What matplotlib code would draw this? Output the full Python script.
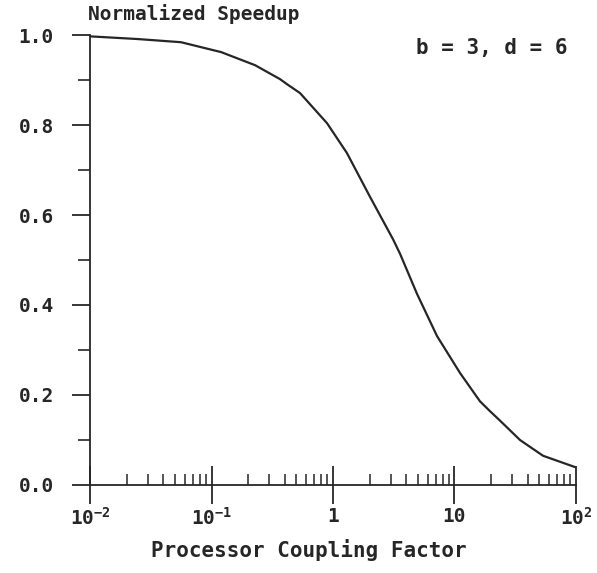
import matplotlib
matplotlib.use("Agg")
import matplotlib.pyplot as plt
from matplotlib.ticker import FixedLocator, MultipleLocator, LogLocator, NullFormatter

# values
coupling = [0.01, 0.0248, 0.0561, 0.12, 0.228, 0.366, 0.427, 0.535, 0.893, 1.30,
            2.02, 3.12, 3.56, 4.91, 7.18, 11.1, 16.2, 19.6, 23.7, 34.6, 53.5, 97.7]
speedup = [0.997, 0.991, 0.984, 0.962, 0.933, 0.902, 0.889, 0.871, 0.804, 0.738,
           0.640, 0.546, 0.514, 0.425, 0.331, 0.249, 0.186, 0.164, 0.143, 0.100, 0.065, 0.040]

xticks = [0.01, 0.1, 1, 10, 100]
xticklabels = ["$10^{-2}$", "$10^{-1}$", "1", "10", "$10^{2}$"]
yticks = [0.0, 0.2, 0.4, 0.6, 0.8, 1.0]
ink = "#262626"

plt.rcParams["font.family"] = "DejaVu Sans Mono"
plt.rcParams["font.weight"] = "bold"
plt.rcParams["mathtext.fontset"] = "custom"
plt.rcParams["mathtext.rm"] = "DejaVu Sans Mono:bold"
plt.rcParams["mathtext.it"] = "DejaVu Sans Mono:bold"
plt.rcParams["mathtext.default"] = "rm"

fig = plt.figure(figsize=(5.97, 5.73), dpi=100)
ax = fig.add_axes([0.1508, 0.1536, 0.8140, 0.7853])

ax.plot(coupling, speedup, color=ink, lw=1.6)
ax.set_xscale("log")
ax.set_xlim(0.01, 100)
ax.set_ylim(0, 1.0)

for s in ["top", "right"]:
    ax.spines[s].set_visible(False)
for s in ["left", "bottom"]:
    ax.spines[s].set_color(ink)
    ax.spines[s].set_linewidth(1.3)
    ax.spines[s].set_clip_on(False)

ax.xaxis.set_major_locator(FixedLocator(xticks))
ax.set_xticklabels(xticklabels)
ax.xaxis.set_minor_locator(LogLocator(base=10, subs=range(2, 10)))
ax.xaxis.set_minor_formatter(NullFormatter())
ax.tick_params(axis="x", which="major", direction="inout", length=28, width=1.3,
               color=ink, labelcolor=ink, labelsize=14, pad=2)
ax.tick_params(axis="x", which="minor", direction="in", length=8, width=1.1, color=ink)

ax.yaxis.set_major_locator(FixedLocator(yticks))
ax.set_yticklabels([f"{v:.1f}" for v in yticks])
ax.yaxis.set_minor_locator(MultipleLocator(0.1))
ax.tick_params(axis="y", which="major", direction="out", length=13, width=1.3,
               color=ink, labelcolor=ink, labelsize=14, pad=13)
ax.tick_params(axis="y", which="minor", direction="out", length=9, width=1.2, color=ink)

fig.text(0.147, 0.976, "Normalized Speedup", ha="left", va="center",
         fontsize=14, color=ink)
ax.text(0.983, 0.971, "b = 3, d = 6", transform=ax.transAxes, ha="right",
        va="center", fontsize=15, color=ink)
fig.text(309 / 597, 1 - 550 / 573, "Processor Coupling Factor", ha="center",
         va="center", fontsize=15, color=ink)

fig.savefig("out.png", dpi=100)
